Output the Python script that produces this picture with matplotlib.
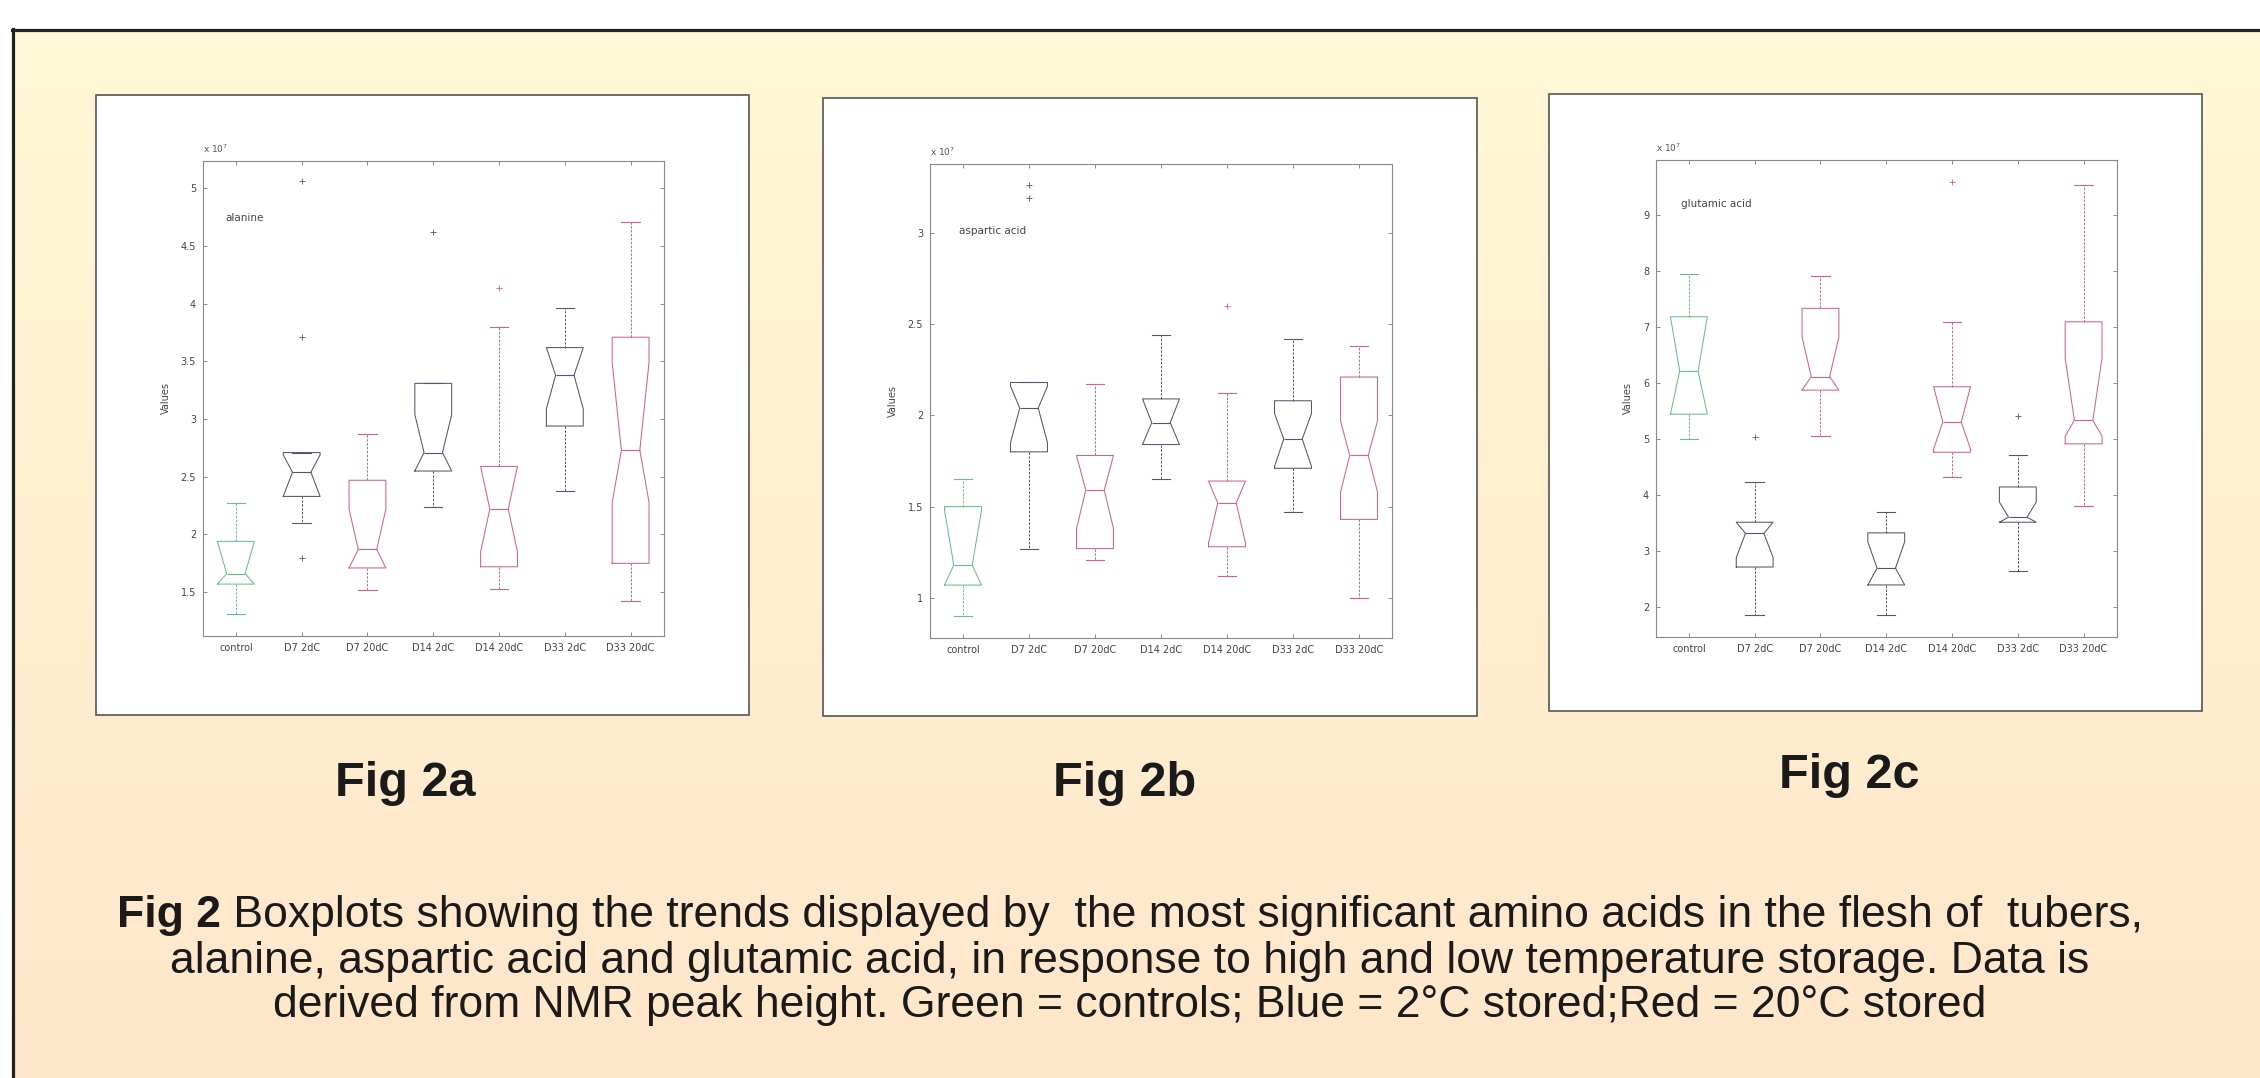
import matplotlib
matplotlib.use("Agg")
import matplotlib.pyplot as plt
import numpy as np
from matplotlib.patches import Rectangle
from matplotlib.lines import Line2D

W, H = 2260, 1078

groups = ["control", "D7 2dC", "D7 20dC", "D14 2dC", "D14 20dC", "D33 2dC", "D33 20dC"]
group_colors = ["#62c483", "#55556f", "#d2647e", "#55556f", "#d2647e", "#55556f", "#d2647e"]

# alanine (x 10^7)
ala_whislo = [1.31, 2.10, 1.52, 2.24, 1.53, 2.38, 1.42]
ala_q1 = [1.57, 2.33, 1.71, 2.55, 1.72, 2.94, 1.75]
ala_cilo = [1.57, 2.33, 1.71, 2.55, 1.85, 3.09, 2.28]
ala_med = [1.66, 2.54, 1.87, 2.71, 2.22, 3.38, 2.73]
ala_cihi = [1.94, 2.69, 2.22, 3.04, 2.59, 3.62, 3.49]
ala_q3 = [1.94, 2.71, 2.47, 3.31, 2.59, 3.62, 3.71]
ala_whishi = [2.27, 2.71, 2.87, 3.31, 3.80, 3.96, 4.71]
ala_fliers = [[], [5.06, 3.71, 1.80], [], [4.62], [4.14], [], []]

# aspartic acid
asp_whislo = [0.90, 1.27, 1.21, 1.65, 1.12, 1.47, 1.00]
asp_q1 = [1.07, 1.80, 1.27, 1.84, 1.28, 1.71, 1.43]
asp_cilo = [1.07, 1.85, 1.38, 1.84, 1.30, 1.72, 1.58]
asp_med = [1.18, 2.04, 1.59, 1.96, 1.52, 1.87, 1.78]
asp_cihi = [1.48, 2.16, 1.78, 2.09, 1.64, 2.01, 1.97]
asp_q3 = [1.50, 2.18, 1.78, 2.09, 1.64, 2.08, 2.21]
asp_whishi = [1.65, 2.18, 2.17, 2.44, 2.12, 2.42, 2.38]
asp_fliers = [[], [3.26, 3.19], [], [], [2.60], [], []]

# glutamic acid
glu_whislo = [5.00, 1.86, 5.05, 1.86, 4.32, 2.64, 3.80]
glu_q1 = [5.44, 2.71, 5.87, 2.39, 4.76, 3.51, 4.91]
glu_cilo = [5.44, 2.88, 5.87, 2.39, 4.82, 3.51, 5.05]
glu_med = [6.21, 3.31, 6.11, 2.69, 5.30, 3.60, 5.33]
glu_cihi = [7.18, 3.51, 6.82, 3.16, 5.93, 3.87, 6.44]
glu_q3 = [7.18, 3.51, 7.33, 3.32, 5.93, 4.14, 7.09]
glu_whishi = [7.94, 4.23, 7.90, 3.69, 7.09, 4.71, 9.54]
glu_fliers = [[], [5.04], [], [], [9.59], [5.40], []]

panels = [
    dict(name="alanine", data=(ala_whislo, ala_q1, ala_cilo, ala_med, ala_cihi, ala_q3, ala_whishi, ala_fliers),
         ylim=(1.12, 5.24), yticks=[1.5, 2, 2.5, 3, 3.5, 4, 4.5, 5], ann=(0.048, 0.879),
         frame=(96, 95, 749, 715), ax=(203, 160.7, 663.5, 636), label="Fig 2a", lab_xy=(405, 783)),
    dict(name="aspartic acid", data=(asp_whislo, asp_q1, asp_cilo, asp_med, asp_cihi, asp_q3, asp_whishi, asp_fliers),
         ylim=(0.78, 3.38), yticks=[1, 1.5, 2, 2.5, 3], ann=(0.062, 0.858),
         frame=(823, 98, 1477, 716), ax=(930, 163.5, 1392, 638), label="Fig 2b", lab_xy=(1125, 783)),
    dict(name="glutamic acid", data=(glu_whislo, glu_q1, glu_cilo, glu_med, glu_cihi, glu_q3, glu_whishi, glu_fliers),
         ylim=(1.46, 9.98), yticks=[2, 3, 4, 5, 6, 7, 8, 9], ann=(0.055, 0.908),
         frame=(1549, 94, 2202, 711), ax=(1656, 160, 2116.5, 637), label="Fig 2c", lab_xy=(1849, 775)),
]

fig = plt.figure(figsize=(W / 100, H / 100), dpi=100)
fig.patch.set_facecolor("white")

def fx(x):
    return x / W

def fy(y):
    return 1 - y / H

# gradient poster background
bg = fig.add_axes([fx(12), 0, 1 - fx(12), fy(29)], zorder=-3)
bg.set_axis_off()
top = np.array([255, 248, 214]) / 255
bot = np.array([255, 230, 202]) / 255
t = np.linspace(0, 1, 256)[:, None]
grad = top[None, :] * (1 - t) + bot[None, :] * t
bg.imshow(grad[:, None, :], aspect="auto", extent=(0, 1, 0, 1))
bg.set_xlim(0, 1)
bg.set_ylim(0, 1)

fig.add_artist(Line2D([fx(12), 1], [fy(29.5), fy(29.5)], color="#222222", lw=2.3, zorder=-1))
fig.add_artist(Line2D([fx(12.5), fx(12.5)], [0, fy(29)], color="#222222", lw=2.3, zorder=-1))

for p in panels:
    x0, y0, x1, y1 = p["frame"]
    fig.add_artist(Rectangle((fx(x0), fy(y1)), fx(x1 - x0), (y1 - y0) / H,
                             facecolor="white", edgecolor="#555555", lw=1.2, zorder=-2))

    l, tp, r, b = p["ax"]
    ax = fig.add_axes([fx(l), fy(b), fx(r - l), (b - tp) / H], zorder=1)
    whislo, q1, cilo, med, cihi, q3, whishi, fliers = p["data"]
    stats = []
    for i in range(len(groups)):
        stats.append(dict(whislo=whislo[i], q1=q1[i], cilo=cilo[i], med=med[i], cihi=cihi[i],
                          q3=q3[i], whishi=whishi[i], fliers=np.array(fliers[i]), label=groups[i]))
    bp = ax.bxp(stats, positions=range(1, 8), widths=0.56, shownotches=True, showfliers=True,
                boxprops=dict(lw=0.75), whiskerprops=dict(lw=0.7, ls=(0, (2.5, 1.5))),
                capprops=dict(lw=0.8), medianprops=dict(lw=0.8),
                flierprops=dict(marker="+", markersize=5, markeredgewidth=0.6, linestyle="none"))
    for i, c in enumerate(group_colors):
        bp["boxes"][i].set_color(c)
        bp["medians"][i].set_color(c)
        bp["fliers"][i].set_markeredgecolor(c)
        for k in (2 * i, 2 * i + 1):
            bp["whiskers"][k].set_color(c)
            bp["caps"][k].set_color(c)

    ax.set_xlim(0.5, 7.5)
    ax.set_ylim(*p["ylim"])
    ax.set_yticks(p["yticks"])
    ax.set_yticklabels([f"{v:g}" for v in p["yticks"]])
    ax.set_xticks(range(1, 8))
    ax.set_xticklabels(groups)
    ax.tick_params(direction="in", length=3, width=0.6, colors="#777777", labelcolor="#444444",
                   labelsize=7, top=True, right=True, pad=5)
    for s in ax.spines.values():
        s.set_color("#888888")
        s.set_linewidth(0.8)
    ax.set_ylabel("Values", fontsize=7, color="#444444", labelpad=7)
    ax.text(0.0, 1.012, r"x 10$^7$", transform=ax.transAxes, fontsize=6.5, color="#555555",
            ha="left", va="bottom")
    ax.text(p["ann"][0], p["ann"][1], p["name"], transform=ax.transAxes, fontsize=7.5,
            color="#444444", ha="left", va="center")

    fig.text(fx(p["lab_xy"][0]), fy(p["lab_xy"][1]), p["label"], fontsize=35, fontweight="bold",
             family="Liberation Sans", color="#1a1a1a", ha="center", va="center")

# caption
cap_size = 32
cap_bold = "Fig 2"
cap_line1 = " Boxplots showing the trends displayed by  the most significant amino acids in the flesh of  tubers,"
cap_line2 = "alanine, aspartic acid and glutamic acid, in response to high and low temperature storage. Data is"
cap_line3 = "derived from NMR peak height. Green = controls; Blue = 2\u00b0C stored;Red = 20\u00b0C stored"

renderer = fig.canvas.get_renderer()
tb = fig.text(0, fy(915), cap_bold, fontsize=cap_size, fontweight="bold", family="Liberation Sans",
              color="#1a1a1a", ha="left", va="center")
tr = fig.text(0, fy(915), cap_line1, fontsize=cap_size, family="Liberation Sans",
              color="#1a1a1a", ha="left", va="center")
wb = tb.get_window_extent(renderer).width
wr = tr.get_window_extent(renderer).width
start = (W - (wb + wr)) / 2
tb.set_x(fx(start))
tr.set_x(fx(start + wb))
fig.text(0.5, fy(961), cap_line2, fontsize=cap_size, family="Liberation Sans",
         color="#1a1a1a", ha="center", va="center")
fig.text(0.5, fy(1006), cap_line3, fontsize=cap_size, family="Liberation Sans",
         color="#1a1a1a", ha="center", va="center")

fig.savefig("out.png", dpi=100, facecolor="white")
